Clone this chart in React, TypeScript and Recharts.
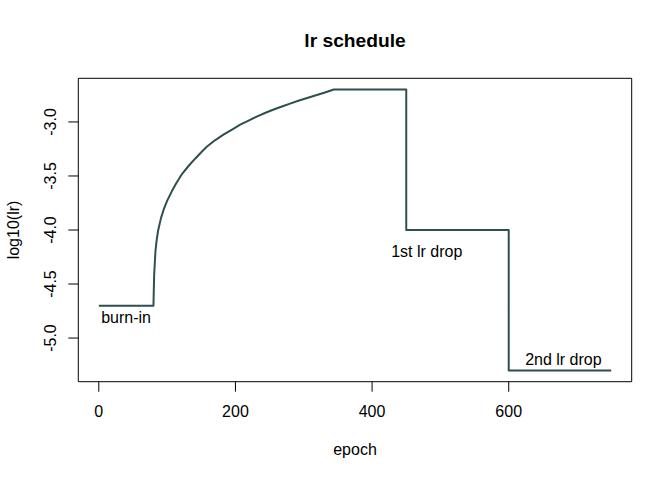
import React from "react";
import {
  LineChart,
  Line,
  XAxis,
  YAxis,
  ReferenceArea,
  ReferenceDot,
} from "recharts";

// epoch vs log10(lr)
const epochs = [
  0, 80, 81, 83, 85, 87, 91, 95, 100, 107, 114, 122, 131, 141, 150, 158, 170,
  183, 195, 207, 220, 232, 244, 256, 268, 280, 292, 305, 318, 331, 344, 450,
  450, 600, 600, 750,
];
const log10Lr = [
  -4.7, -4.7, -4.42, -4.19, -4.08, -4.0, -3.89, -3.81, -3.73, -3.64, -3.56,
  -3.48, -3.41, -3.34, -3.28, -3.23, -3.17, -3.115, -3.07, -3.025, -2.985,
  -2.948, -2.915, -2.885, -2.857, -2.83, -2.804, -2.778, -2.753, -2.727, -2.7,
  -2.7, -4.0, -4.0, -5.3, -5.3,
];

const xTicks = [0, 200, 400, 600];
const yTicks = [-5.0, -4.5, -4.0, -3.5, -3.0];

// text annotations placed in data coordinates
const notes = [
  { x: 40, y: -4.81, text: "burn-in" },
  { x: 480, y: -4.2, text: "1st lr drop" },
  { x: 680, y: -5.2, text: "2nd lr drop" },
];

const X_DOMAIN: [number, number] = [-30, 780];
const Y_DOMAIN: [number, number] = [-5.404, -2.596];

const FONT = "'Liberation Sans', Arial, Helvetica, sans-serif";
const LINE = "#2F4F4F";

const data = epochs.map((e, i) => ({ epoch: e, lr: log10Lr[i] }));

function RotatedTick(props: any) {
  const { x, y, payload } = props;
  return (
    <text
      x={x}
      y={y}
      transform={`rotate(-90, ${x}, ${y})`}
      textAnchor="middle"
      fontSize={16}
      fontFamily={FONT}
      fill="#000"
    >
      {Number(payload.value).toFixed(1)}
    </text>
  );
}

export default function App() {
  return (
    <div
      style={{
        position: "absolute",
        left: 0,
        top: 0,
        width: 672,
        height: 480,
        background: "#fff",
        fontFamily: FONT,
      }}
    >
      <LineChart
        width={672}
        height={480}
        data={data}
        margin={{ top: 78.3, right: 40.3, bottom: 58.3, left: 0 }}
      >
        <XAxis
          dataKey="epoch"
          type="number"
          domain={X_DOMAIN}
          ticks={xTicks}
          allowDataOverflow
          axisLine={false}
          tickSize={10}
          tickMargin={14}
          stroke="#000"
          height={40}
          tick={{ fill: "#000", fontSize: 16, fontFamily: FONT }}
        />
        <YAxis
          type="number"
          domain={Y_DOMAIN}
          ticks={yTicks}
          allowDataOverflow
          axisLine={false}
          tickSize={10}
          tickMargin={12}
          stroke="#000"
          width={78.3}
          tick={<RotatedTick />}
        />
        <ReferenceArea
          x1={X_DOMAIN[0]}
          x2={X_DOMAIN[1]}
          y1={Y_DOMAIN[0]}
          y2={Y_DOMAIN[1]}
          fill="none"
          stroke="#000"
          strokeWidth={1}
          ifOverflow="visible"
        />
        <Line
          dataKey="lr"
          type="linear"
          stroke={LINE}
          strokeWidth={2}
          strokeLinejoin="round"
          dot={false}
          isAnimationActive={false}
        />
        {notes.map((n) => (
          <ReferenceDot
            key={n.text}
            x={n.x}
            y={n.y}
            r={0}
            fill="none"
            stroke="none"
            label={{
              value: n.text,
              position: "center",
              fill: "#000",
              fontSize: 16,
              fontFamily: FONT,
            }}
          />
        ))}
      </LineChart>
      <svg
        width={672}
        height={480}
        style={{ position: "absolute", left: 0, top: 0, pointerEvents: "none" }}
      >
        <text
          x={355}
          y={47.3}
          textAnchor="middle"
          fontSize={19.2}
          fontWeight="bold"
          fontFamily={FONT}
          fill="#000"
        >
          lr schedule
        </text>
        <text
          x={355}
          y={455}
          textAnchor="middle"
          fontSize={16}
          fontFamily={FONT}
          fill="#000"
        >
          epoch
        </text>
        <text
          x={19.3}
          y={230}
          transform="rotate(-90, 19.3, 230)"
          textAnchor="middle"
          fontSize={16}
          fontFamily={FONT}
          fill="#000"
        >
          log10(lr)
        </text>
      </svg>
    </div>
  );
}
